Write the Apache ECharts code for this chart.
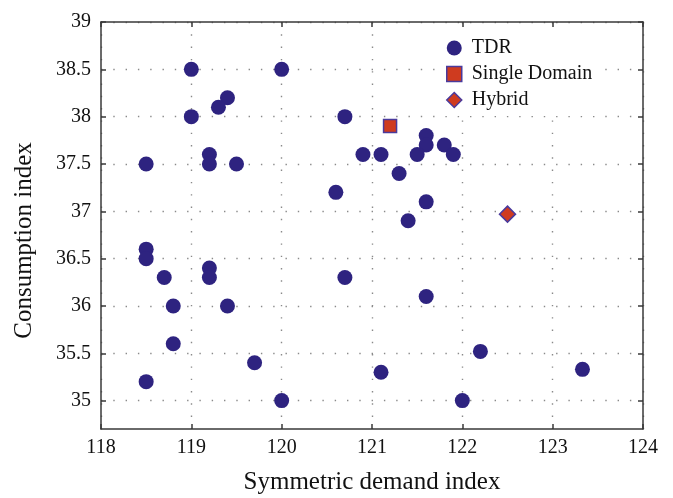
<!DOCTYPE html>
<html>
<head>
<meta charset="utf-8">
<script src="https://cdn.jsdelivr.net/npm/echarts@6/dist/echarts.min.js"></script>
<style>
  html, body { margin: 0; padding: 0; background: #fff; }
  #chart { width: 673px; height: 498px; }
</style>
</head>
<body>
<div id="chart"></div>
<script>
// TDR points [symmetric demand index, consumption index]
const tdrPoints = [
  [119.0, 38.5], [120.0, 38.5], [119.4, 38.2], [119.3, 38.1], [119.0, 38.0],
  [120.7, 38.0], [119.2, 37.6], [119.2, 37.5], [118.5, 37.5], [119.5, 37.5],
  [120.6, 37.2], [120.9, 37.6], [121.1, 37.6], [121.6, 37.8], [121.6, 37.7],
  [121.8, 37.7], [121.5, 37.6], [121.9, 37.6], [121.3, 37.4], [121.6, 37.1],
  [121.4, 36.9], [118.5, 36.6], [118.5, 36.5], [118.7, 36.3], [119.2, 36.4],
  [119.2, 36.3], [120.7, 36.3], [118.8, 36.0], [119.4, 36.0], [118.8, 35.6],
  [119.7, 35.4], [118.5, 35.2], [120.0, 35.0], [121.1, 35.3], [121.6, 36.1],
  [122.2, 35.52], [123.33, 35.33], [122.0, 35.0]
]
const singleDomainPoints = [[121.2, 37.9]]
const hybridPoints = [[122.5, 36.97]]

const yTicks = [35, 35.5, 36, 36.5, 37, 37.5, 38, 38.5, 39]

const serif = '"Liberation Serif", "DejaVu Serif", serif'
const axisColor = '#3a3a3a'
const dotted = { color: '#8a8a8a', width: 1.4, type: [1.4, 10.9] }

const chart = echarts.init(document.getElementById('chart'))

const option = {
  animation: false,
  backgroundColor: '#fff',
  grid: { left: 101, right: 30, top: 22, bottom: 69, outerBoundsMode: 'none', containLabel: false },
  legend: {
    orient: 'vertical',
    left: 436,
    top: 32,
    padding: [6, 12, 6, 10],
    backgroundColor: '#fff',
    itemWidth: 15,
    itemHeight: 15,
    itemGap: 6,
    textStyle: { fontFamily: serif, fontSize: 20, color: '#111', lineHeight: 20, padding: [0, 0, 0, 5] },
    data: [
      { name: 'TDR', icon: 'circle', itemStyle: { color: '#2e2380' } },
      { name: 'Single Domain', icon: 'rect', itemStyle: { color: '#cf3b1f', borderColor: '#4a3a9c', borderWidth: 1.5 } },
      { name: 'Hybrid', icon: 'diamond', itemStyle: { color: '#cf3b1f', borderColor: '#4a3a9c', borderWidth: 1.5 } }
    ]
  },
  xAxis: [
    {
      type: 'value',
      min: 118,
      max: 124,
      interval: 1,
      name: 'Symmetric demand index',
      nameLocation: 'middle',
      nameGap: 41,
      nameTextStyle: { fontFamily: serif, fontSize: 25, color: '#111' },
      axisLine: { show: true, onZero: false, lineStyle: { color: axisColor, width: 1.5 } },
      axisTick: { show: true, inside: true, length: 5, lineStyle: { color: axisColor, width: 1.5 } },
      axisLabel: { fontFamily: serif, fontSize: 20, color: '#111', margin: 9 },
      splitLine: { show: true, lineStyle: dotted }
    },
    {
      type: 'value',
      position: 'top',
      min: 118,
      max: 124,
      interval: 1,
      axisLine: { show: true, onZero: false, lineStyle: { color: axisColor, width: 1.5 } },
      axisTick: { show: true, inside: true, length: 5, lineStyle: { color: axisColor, width: 1.5 } },
      axisLabel: { show: false },
      splitLine: { show: false }
    }
  ],
  yAxis: [
    {
      type: 'value',
      min: 34.7,
      max: 39,
      name: 'Consumption index',
      nameLocation: 'middle',
      nameGap: 64,
      nameTextStyle: { fontFamily: serif, fontSize: 25, color: '#111', padding: [0, 30, 0, 0] },
      axisLine: { show: true, onZero: false, lineStyle: { color: axisColor, width: 1.5 } },
      axisTick: { show: true, inside: true, length: 5, customValues: yTicks, lineStyle: { color: axisColor, width: 1.5 } },
      axisLabel: { fontFamily: serif, fontSize: 20, color: '#111', margin: 10, customValues: yTicks },
      splitLine: { show: true, lineStyle: dotted }
    },
    {
      type: 'value',
      position: 'right',
      min: 34.7,
      max: 39,
      axisLine: { show: true, onZero: false, lineStyle: { color: axisColor, width: 1.5 } },
      axisTick: { show: true, inside: true, length: 5, customValues: yTicks, lineStyle: { color: axisColor, width: 1.5 } },
      axisLabel: { show: false, customValues: yTicks },
      splitLine: { show: false }
    }
  ],
  series: [
    {
      name: 'TDR',
      type: 'scatter',
      symbol: 'circle',
      symbolSize: 15,
      itemStyle: { color: '#2e2380', opacity: 1 },
      data: tdrPoints
    },
    {
      name: 'Single Domain',
      type: 'scatter',
      symbol: 'rect',
      symbolSize: 13,
      itemStyle: { color: '#cf3b1f', borderColor: '#4a3a9c', borderWidth: 1.5, opacity: 1 },
      data: singleDomainPoints
    },
    {
      name: 'Hybrid',
      type: 'scatter',
      symbol: 'diamond',
      symbolSize: 16,
      itemStyle: { color: '#cf3b1f', borderColor: '#4a3a9c', borderWidth: 1.5, opacity: 1 },
      data: hybridPoints
    }
  ]
}

chart.setOption(option)
</script>
</body>
</html>
